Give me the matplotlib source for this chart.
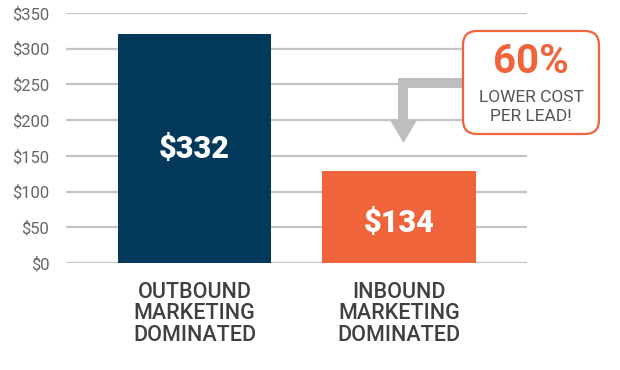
import matplotlib
matplotlib.use('Agg')
import matplotlib.pyplot as plt
from matplotlib.patches import FancyBboxPatch, Polygon

# Data
categories = ['OUTBOUND\nMARKETING\nDOMINATED', 'INBOUND\nMARKETING\nDOMINATED']
bar_heights = [320, 129]          # heights as drawn in the picture
bar_labels = ['$332', '$134']     # cost per lead shown on bars
bar_colors = ['#03395A', '#F0643C']
yticks = [0, 50, 100, 150, 200, 250, 300, 350]
callout_big = '60%'
callout_small = 'LOWER COST\nPER LEAD!'

plt.rcParams['font.family'] = ['Roboto', 'DejaVu Sans']

fig = plt.figure(figsize=(6.2, 3.7), dpi=100)
ax = fig.add_axes([66 / 620, 1 - 263 / 370, 461 / 620, 250 / 370])

x = range(len(bar_heights))
ax.bar(x, bar_heights, width=0.75, color=bar_colors, zorder=3)
label_frac = [0.5, 0.43]
for i, (h, lab) in enumerate(zip(bar_heights, bar_labels)):
    ax.text(i, h * label_frac[i], lab, ha='center', va='center',
            color='white', fontsize=22, fontweight='black', zorder=4)

ax.set_xlim(-0.628, 1.626)
ax.set_ylim(0, 350)
ax.set_yticks(yticks)
ax.set_yticklabels(['${}'.format(t) for t in yticks], color='#666666', fontsize=12)
ax.grid(axis='y', color='#C4C4C4', linewidth=1.6, zorder=0)
ax.set_axisbelow(True)
ax.tick_params(axis='y', length=0, pad=12)
ax.set_xticks([])
for s in ax.spines.values():
    s.set_visible(False)
for i, cat in enumerate(categories):
    ax.text(i, -26, cat, ha='center', va='top', color='#404040', fontsize=15.5,
            fontweight='medium', linespacing=1.05, clip_on=False)

# Overlay in pixel coordinates for the callout
ov = fig.add_axes([0, 0, 1, 1], zorder=5)
ov.set_xlim(0, 620)
ov.set_ylim(370, 0)
ov.axis('off')
grey = '#BDBEC0'
arrow = Polygon([(463, 78), (398, 78), (398, 120), (390, 120), (403.5, 143),
                 (417, 120), (408, 120), (408, 88), (463, 88)],
                closed=True, facecolor=grey, edgecolor='none')
ov.add_patch(arrow)
box = FancyBboxPatch((463, 31), 136, 103, boxstyle='round,pad=0,rounding_size=14',
                     facecolor='white', edgecolor='#F0643C', linewidth=1.6)
ov.add_patch(box)
ov.text(531, 62, callout_big, ha='center', va='center', color='#F0643C',
        fontsize=29, fontweight='bold')
ov.text(531, 107, callout_small, ha='center', va='center', color='#555555',
        fontsize=12.5, linespacing=1.3)

fig.savefig('out.png', dpi=100)
